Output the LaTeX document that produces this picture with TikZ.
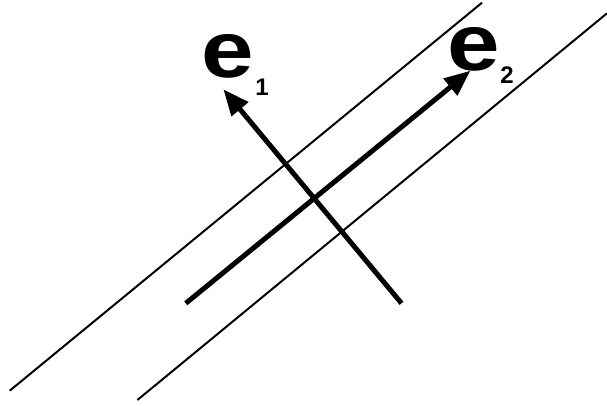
\documentclass[tikz,border=0pt]{standalone}
\usepackage{fontspec}
\setmainfont{Liberation Sans}
\usetikzlibrary{arrows.meta}
\newcommand{\bigletter}[1]{\scalebox{1.18}[1]{\fontsize{80}{80}\selectfont\bfseries #1}}
\newcommand{\smallindex}{\fontsize{24}{24}\selectfont\bfseries}

\begin{document}
\begin{tikzpicture}[x=1pt, y=1pt,
  thin line/.style={line width=2pt},
  basis/.style={line width=5pt, -{Triangle[length=26pt, width=21pt]}},
  label/.style={inner sep=0}]
\useasboundingbox (0,0) rectangle (607,405);
\path (9.7,14.3) coordinate (p1) (482,402.3) coordinate (q1);
\path (137.4,5) coordinate (p2) (607,391.7) coordinate (q2);
\path (185.8,101.7) coordinate (e2start) (470.4,334.3) coordinate (e2tip);
\path (401.5,101.7) coordinate (e1start) (223.4,315.7) coordinate (e1tip);
\draw[thin line] (p1) -- (q1);
\draw[thin line] (p2) -- (q2);
\draw[basis] (e2start) -- (e2tip);
\draw[basis] (e1start) -- (e1tip);
\node[label] (e1) at (228,349) {\bigletter{e}};
\node[label] (i1) at (262,318) {\smallindex 1};
\node[label] (e2) at (474,356) {\bigletter{e}};
\node[label] (i2) at (507,330) {\smallindex 2};
\end{tikzpicture}
\end{document}
